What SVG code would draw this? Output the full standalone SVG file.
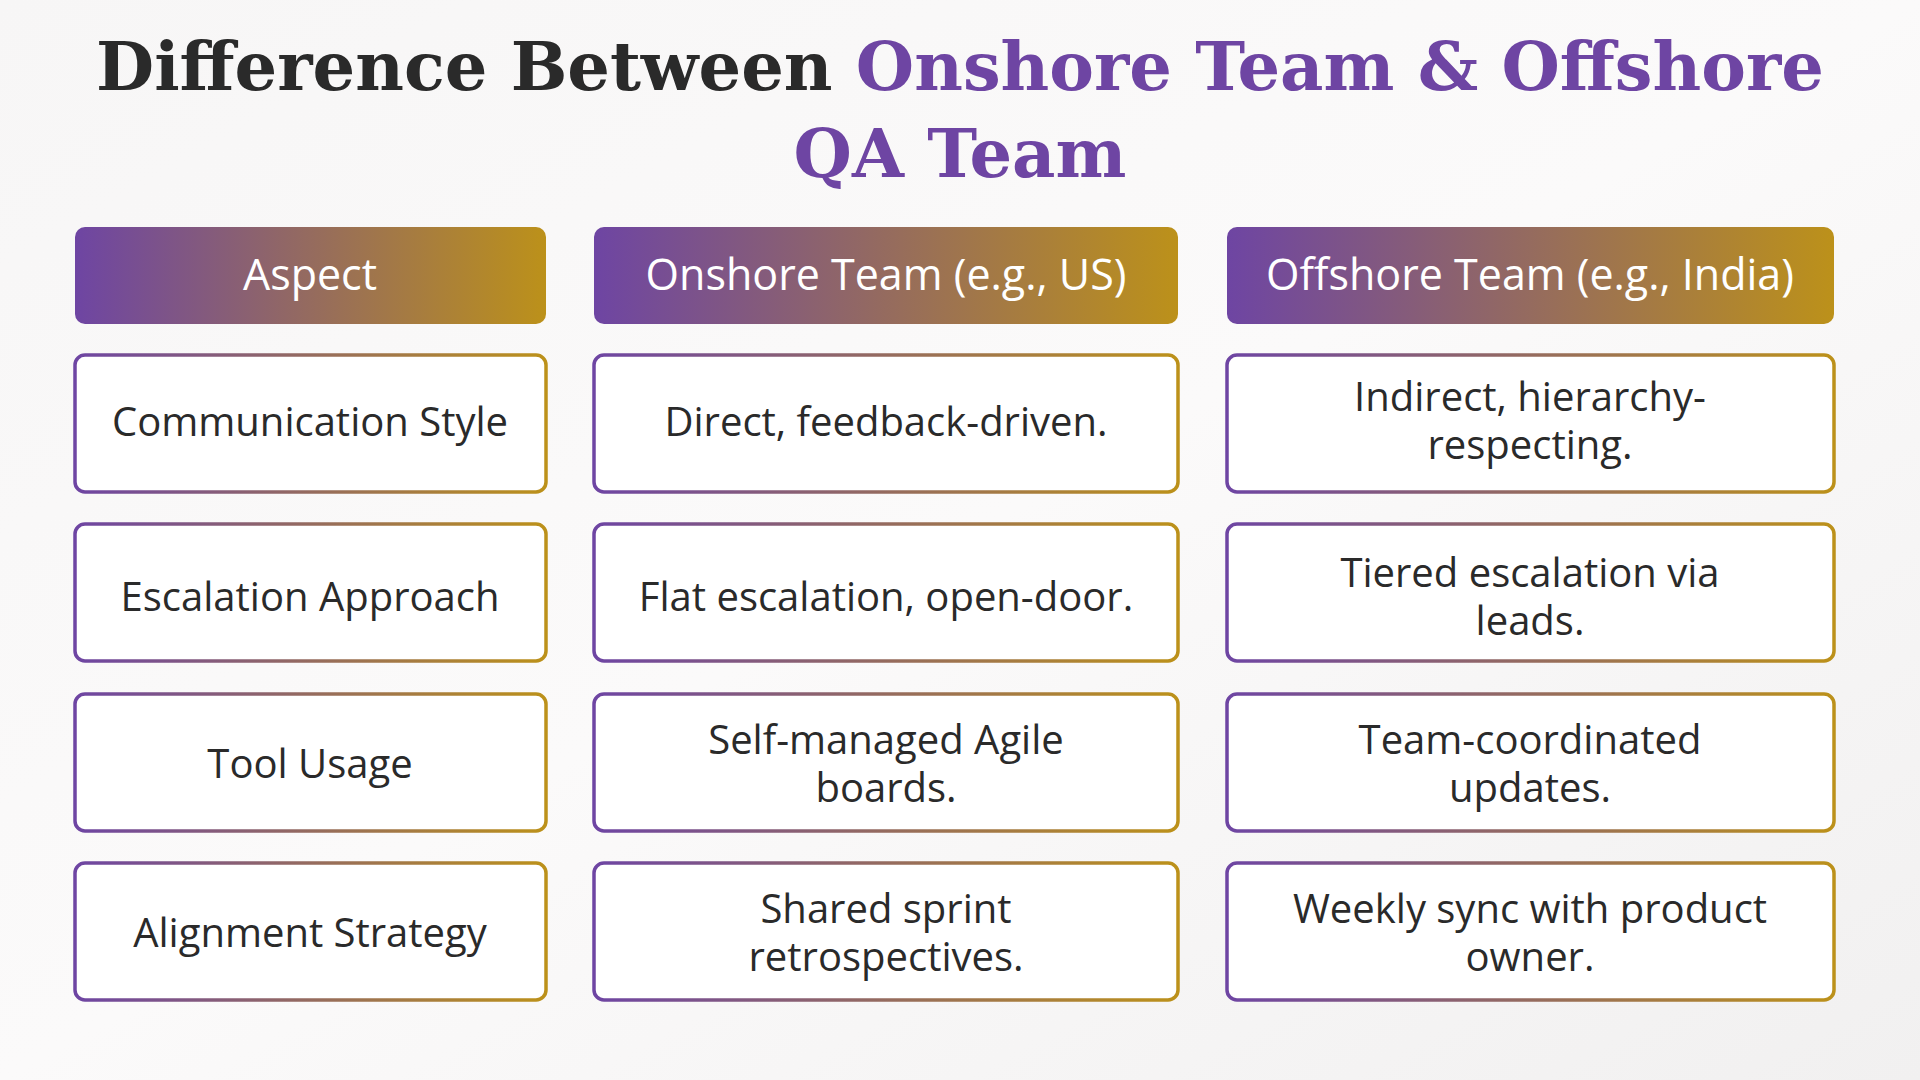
<svg xmlns="http://www.w3.org/2000/svg" width="1920" height="1080" viewBox="0 0 1920 1080">
<defs>
<linearGradient id="g" x1="0" y1="0" x2="1" y2="0"><stop offset="0" stop-color="#6E45A3"/><stop offset="1" stop-color="#BC911A"/></linearGradient>
<linearGradient id="bg" x1="0" y1="0" x2="1" y2="1"><stop offset="0" stop-color="#F7F6F6"/><stop offset="0.5" stop-color="#FBFAFA"/><stop offset="1" stop-color="#F1F0F0"/></linearGradient>
<style>
.h{fill:url(#g)}
.c{fill:#fff;stroke:url(#g);stroke-width:3.5}
.ht{font-family:"Open Sans",sans-serif;font-size:43px;font-weight:500;fill:#fff;text-anchor:middle}
.t{font-family:"Open Sans",sans-serif;font-size:40px;font-weight:500;fill:#2a2a2a;text-anchor:middle}
.ti{font-family:"DejaVu Serif",serif;font-weight:bold;font-size:67px;text-anchor:middle}
</style>
</defs>
<rect width="1920" height="1080" fill="url(#bg)"/>
<text class="ti" x="960" y="90"><tspan fill="#2a2a2a">Difference Between </tspan><tspan fill="#6E45A3">Onshore Team &amp; Offshore</tspan></text>
<text class="ti" x="960" y="177" fill="#6E45A3">QA Team</text>
<g id="h1"><rect class="h" x="75" y="227" width="471" height="97" rx="10"/><text class="ht" x="310" y="290">Aspect</text></g>
<g id="h2"><rect class="h" x="594" y="227" width="584" height="97" rx="10"/><text class="ht" x="886" y="290">Onshore Team (e.g., US)</text></g>
<g id="h3"><rect class="h" x="1227" y="227" width="607" height="97" rx="10"/><text class="ht" x="1530" y="290">Offshore Team (e.g., India)</text></g>
<g id="r1a"><rect class="c" x="75" y="355" width="471" height="137" rx="10"/><text class="t" x="310" y="436">Communication Style</text></g>
<g id="r1b"><rect class="c" x="594" y="355" width="584" height="137" rx="10"/><text class="t" x="886" y="436">Direct, feedback-driven.</text></g>
<g id="r1c"><rect class="c" x="1227" y="355" width="607" height="137" rx="10"/><text class="t" x="1530" y="411">Indirect, hierarchy-</text><text class="t" x="1530" y="459">respecting.</text></g>
<g id="r2a"><rect class="c" x="75" y="524" width="471" height="137" rx="10"/><text class="t" x="310" y="611">Escalation Approach</text></g>
<g id="r2b"><rect class="c" x="594" y="524" width="584" height="137" rx="10"/><text class="t" x="886" y="611">Flat escalation, open-door.</text></g>
<g id="r2c"><rect class="c" x="1227" y="524" width="607" height="137" rx="10"/><text class="t" x="1530" y="587">Tiered escalation via</text><text class="t" x="1530" y="635">leads.</text></g>
<g id="r3a"><rect class="c" x="75" y="694" width="471" height="137" rx="10"/><text class="t" x="310" y="778">Tool Usage</text></g>
<g id="r3b"><rect class="c" x="594" y="694" width="584" height="137" rx="10"/><text class="t" x="886" y="754">Self-managed Agile</text><text class="t" x="886" y="802">boards.</text></g>
<g id="r3c"><rect class="c" x="1227" y="694" width="607" height="137" rx="10"/><text class="t" x="1530" y="754">Team-coordinated</text><text class="t" x="1530" y="802">updates.</text></g>
<g id="r4a"><rect class="c" x="75" y="863" width="471" height="137" rx="10"/><text class="t" x="310" y="947">Alignment Strategy</text></g>
<g id="r4b"><rect class="c" x="594" y="863" width="584" height="137" rx="10"/><text class="t" x="886" y="923">Shared sprint</text><text class="t" x="886" y="971">retrospectives.</text></g>
<g id="r4c"><rect class="c" x="1227" y="863" width="607" height="137" rx="10"/><text class="t" x="1530" y="923">Weekly sync with product</text><text class="t" x="1530" y="971">owner.</text></g>
<g id="connectors"/>
</svg>
